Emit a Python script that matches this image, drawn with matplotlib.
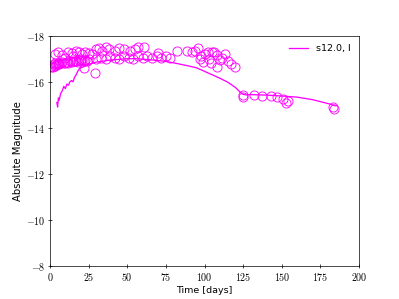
import matplotlib
matplotlib.use("Agg")
import matplotlib.pyplot as plt
from matplotlib.ticker import FuncFormatter

plt.rcParams['mathtext.fontset'] = 'cm'

# model light curve (s12.0, I)
model_day = [4.5, 5, 5.5, 6, 7, 8, 9, 10, 11, 12, 13, 14, 15, 16, 17, 18, 19, 20,
             22, 25, 30, 35, 40, 45, 50, 55, 60, 65, 70, 75, 80, 85, 90, 95, 100,
             105, 110, 115, 120, 123, 125, 127, 130, 140, 150, 160, 170, 180, 185]
model_mag = [-15.1, -14.9, -15.3, -15.2, -15.5, -15.6, -15.8, -15.7, -15.9, -15.85,
             -16.0, -16.05, -16.0, -16.2, -16.3, -16.45, -16.55, -16.6, -16.65,
             -16.75, -16.85, -16.9, -16.95, -16.97, -17.0, -17.0, -16.98, -16.95,
             -16.92, -16.88, -16.82, -16.75, -16.68, -16.6, -16.45, -16.3, -16.15,
             -15.98, -15.75, -15.55, -15.45, -15.43, -15.44, -15.42, -15.38, -15.33,
             -15.22, -15.05, -14.95]

# observed points
obs_day = [1, 1.5, 2, 2.5, 3, 3.5, 4, 4.5, 5, 5.5, 6, 7, 8, 9, 10, 11, 12, 13, 14,
           15, 16, 17, 18, 19, 20, 21, 22, 23, 24, 25,
           3, 5, 8, 12, 14, 17, 19, 21, 23, 25, 27, 10, 15, 20, 22, 29,
           30, 32, 34, 36, 38, 42, 45, 48, 52, 55, 57, 61,
           30, 33, 36, 39, 42, 45, 48, 51, 54, 57, 60, 63, 66, 69, 72, 75, 78,
           70, 82, 89, 92, 96, 97, 99, 102, 103, 105, 108, 108, 110, 113, 115,
           117, 120, 94, 98, 100, 104, 106, 111,
           125, 125, 132, 137, 143, 147, 151, 153, 154, 183, 184]
obs_mag = [-16.62, -16.7, -16.65, -16.75, -16.7, -16.8, -16.72, -16.78, -16.75,
           -16.82, -16.78, -16.8, -16.85, -16.8, -16.83, -16.87, -16.82, -16.9,
           -16.86, -16.92, -16.88, -16.9, -16.85, -16.93, -16.9, -16.95, -16.92,
           -16.96, -16.9, -16.98,
           -17.2, -17.3, -17.15, -17.3, -17.25, -17.35, -17.3, -17.2, -17.3, -17.25,
           -17.2, -17.05, -17.1, -17.0, -16.6, -16.4,
           -17.4, -17.45, -17.35, -17.5, -17.4, -17.35, -17.45, -17.4, -17.35, -17.4,
           -17.5, -17.5,
           -17.0, -17.05, -17.0, -17.1, -17.05, -17.0, -17.1, -17.05, -17.0, -17.1,
           -17.05, -17.1, -17.05, -17.1, -17.05, -17.1, -17.05,
           -17.25, -17.35, -17.35, -17.3, -17.45, -17.0, -16.85, -17.27, -17.0,
           -17.3, -17.14, -16.63, -16.93, -17.2, -16.9, -16.75, -16.63,
           -17.35, -17.1, -17.2, -16.8, -17.3, -17.05,
           -15.42, -15.35, -15.43, -15.4, -15.38, -15.35, -15.25, -15.08, -15.18,
           -14.9, -14.8]

x_ticks = [0, 25, 50, 75, 100, 125, 150, 175, 200]
y_ticks = [-18, -16, -14, -12, -10, -8]

fig, ax = plt.subplots(figsize=(6.4, 4.8), dpi=62.35)

ax.plot(obs_day, obs_mag, 'o', mfc='none', mec='#ff00ff', ms=10.5, mew=1.0)
ax.plot(model_day, model_mag, color='#ff00ff', lw=1.5, label='s12.0, I')

ax.set_xlim(0, 200)
ax.set_ylim(-8, -18)
ax.set_xticks(x_ticks)
ax.set_yticks(y_ticks)
ax.xaxis.set_major_formatter(FuncFormatter(lambda v, p: f'${v:g}$'))
ax.yaxis.set_major_formatter(FuncFormatter(lambda v, p: f'${v:g}$'))
ax.tick_params(direction='inout', labelsize=11.5)

ax.set_xlabel('Time [days]', fontsize=11)
ax.set_ylabel('Absolute Magnitude', fontsize=11.5)
ax.legend(loc='upper right', frameon=False, fontsize=11)

fig.savefig('out.png', dpi=62.35)
